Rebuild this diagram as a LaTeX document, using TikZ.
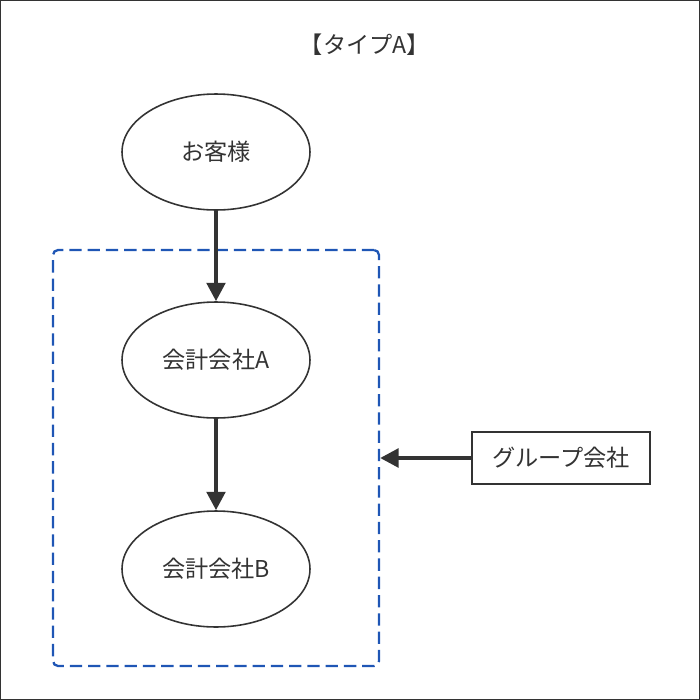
\documentclass[tikz,border=0pt]{standalone}
\usepackage{fontspec}
\setmainfont{Noto Sans CJK JP}
\usetikzlibrary{arrows.meta,shapes.geometric}
\definecolor{ink}{RGB}{51,51,51}
\definecolor{frameblue}{RGB}{31,86,181}
\tikzset{party/.style={ellipse,draw=ink,line width=0.9pt,minimum width=3.76cm,minimum height=2.32cm,text=ink},
         flow/.style={draw=ink,line width=2.3pt,-{Triangle[length=10.5pt,width=10.5pt]}},
         groupframe/.style={draw=frameblue,line width=1.3pt,dash pattern=on 7pt off 3.4pt,rounded corners=2.8pt,
                            minimum width=6.52cm,minimum height=8.32cm},
         labelbox/.style={draw=ink,line width=0.9pt,minimum width=3.56cm,minimum height=1.04cm,text=ink}}

\begin{document}
\begin{tikzpicture}[x=0.02cm,y=-0.02cm,font=\fontsize{13.2}{15}\selectfont]
  \useasboundingbox (0,0) rectangle (700,700);
  \draw[ink,line width=0.6pt] (0.5,0.5) rectangle (699.5,699.5);
  \node[text=ink] (title) at (365,45) {【タイプA】};
  % parties
  \node[party] (customer) at (216,152) {お客様};
  \node[party] (firmA) at (216,360) {会計会社A};
  \node[party] (firmB) at (216,569) {会計会社B};
  % group
  \node[groupframe] (frame) at (216,458) {};
  \node[labelbox] (group) at (561,458) {グループ会社};
  \draw[flow] (customer) -- (firmA);
  \draw[flow] (firmA) -- (firmB);
  \draw[flow] (group) -- (frame.east);
\end{tikzpicture}
\end{document}
